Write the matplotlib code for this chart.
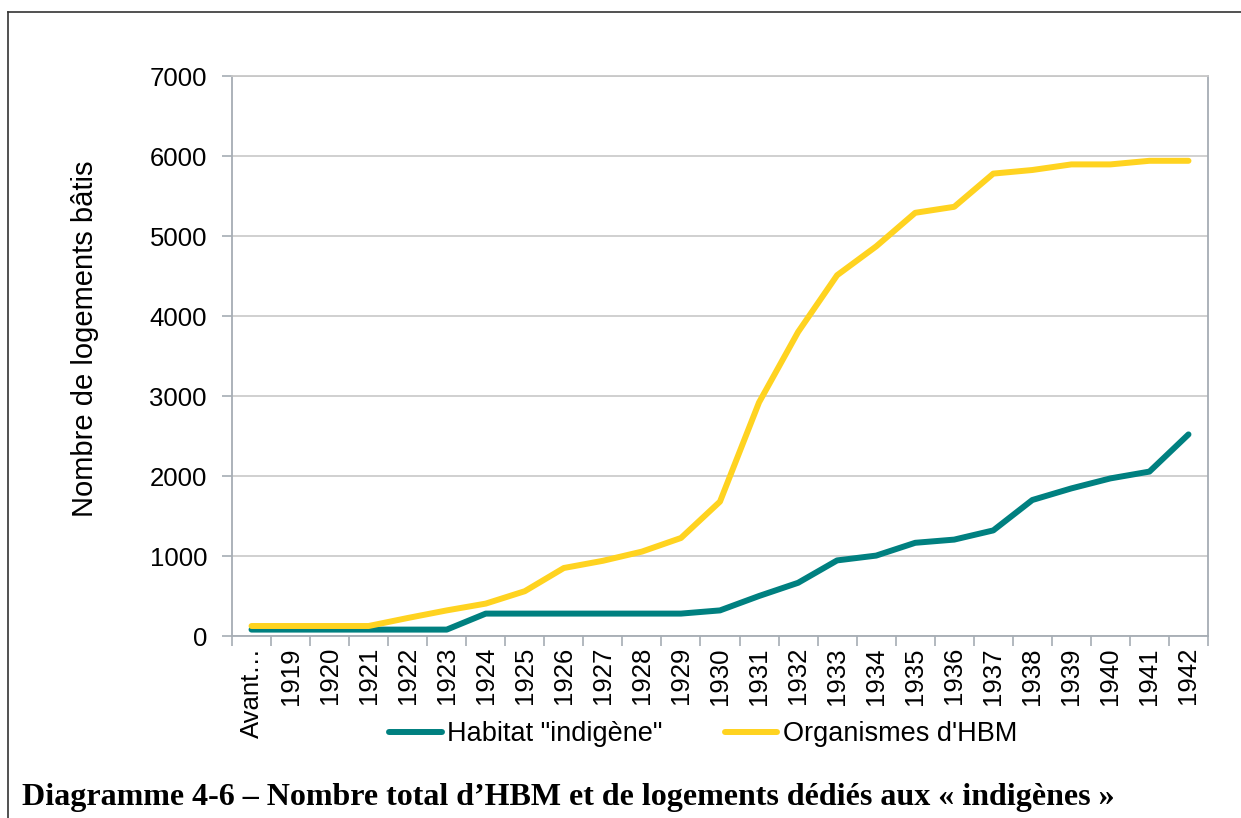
"""HBM housing totals vs. housing dedicated to 'indigènes' (diagramme 4-6)."""

from matplotlib import pyplot as plt
from matplotlib.lines import Line2D
import numpy as np

categories = ["Avant…"] + [str(y) for y in range(1919, 1943)]

habitat_indigene = [
    80, 80, 80, 80, 80, 80, 280, 280, 280, 280, 280, 280, 320,
    500, 665, 945, 1005, 1165, 1205, 1320, 1700, 1845, 1970, 2055, 2520,
]
organismes_hbm = [
    125, 125, 125, 125, 225, 320, 405, 560, 850, 940, 1055, 1225, 1680,
    2920, 3800, 4510, 4870, 5290, 5365, 5780, 5825, 5895, 5895, 5940, 5940,
]

TEAL = "#008080"
YELLOW = "#FFD320"
GRID = "#C8C8C8"
SPINE = "#A6ADB4"

W, H = 1241, 818
fig = plt.figure(figsize=(W / 100, H / 100), dpi=100)
plt.rcParams["font.family"] = ["Liberation Sans", "DejaVu Sans"]

# plot area in pixel coordinates
left, right, top, bottom = 232, 1208, 76, 636
ax = fig.add_axes([left / W, 1 - bottom / H, (right - left) / W, (bottom - top) / H])

x = np.arange(len(categories))
ax.plot(x, habitat_indigene, color=TEAL, lw=4.3, solid_capstyle="round",
        solid_joinstyle="round", label='Habitat "indigène"', zorder=3)
ax.plot(x, organismes_hbm, color=YELLOW, lw=4.3, solid_capstyle="round",
        solid_joinstyle="round", label="Organismes d'HBM", zorder=3)

ax.set_xlim(-0.5, len(categories) - 0.5)
ax.set_ylim(0, 7000)
ax.set_yticks(np.arange(0, 7001, 1000))
ax.grid(axis="y", color=GRID, lw=1.2)
ax.set_axisbelow(True)

# category labels centred, tick marks on category boundaries
ax.set_xticks(x)
ax.set_xticklabels(categories, rotation=90, fontsize=18.5)
ax.set_xticks(np.arange(-0.5, len(categories)), minor=True)
ax.tick_params(axis="x", which="major", length=0, pad=8)
ax.tick_params(axis="x", which="minor", length=7, color=SPINE, width=1.2)
ax.tick_params(axis="y", length=7, color=SPINE, width=1.2, pad=11, labelsize=18.5)

for side in ["left", "right", "bottom", "top"]:
    ax.spines[side].set_color(SPINE)
    ax.spines[side].set_linewidth(1.3)
ax.spines["top"].set_color(GRID)

fig.text(85 / W, 1 - 339 / H, "Nombre de logements bâtis", rotation=90,
         ha="center", va="center", fontsize=21)

fig.legend(loc="center", bbox_to_anchor=(703 / W, 1 - 734 / H), ncol=2,
           frameon=False, fontsize=19.5, handlelength=1.95, handletextpad=0.2,
           columnspacing=2.3)

fig.text(22 / W, 1 - 798 / H,
         "Diagramme 4-6 – Nombre total d’HBM et de logements dédiés aux « indigènes »",
         ha="left", va="center", fontsize=23, fontweight="bold",
         family=["Liberation Serif", "DejaVu Serif"])

# outer frame (left and top edges only are visible)
fig.add_artist(Line2D([8 / W, 8 / W], [0, 1 - 12 / H], color="#333333", lw=1.2))
fig.add_artist(Line2D([8 / W, 1], [1 - 12 / H, 1 - 12 / H], color="#333333", lw=1.2))

fig.savefig("out.png", dpi=100, facecolor="white")
